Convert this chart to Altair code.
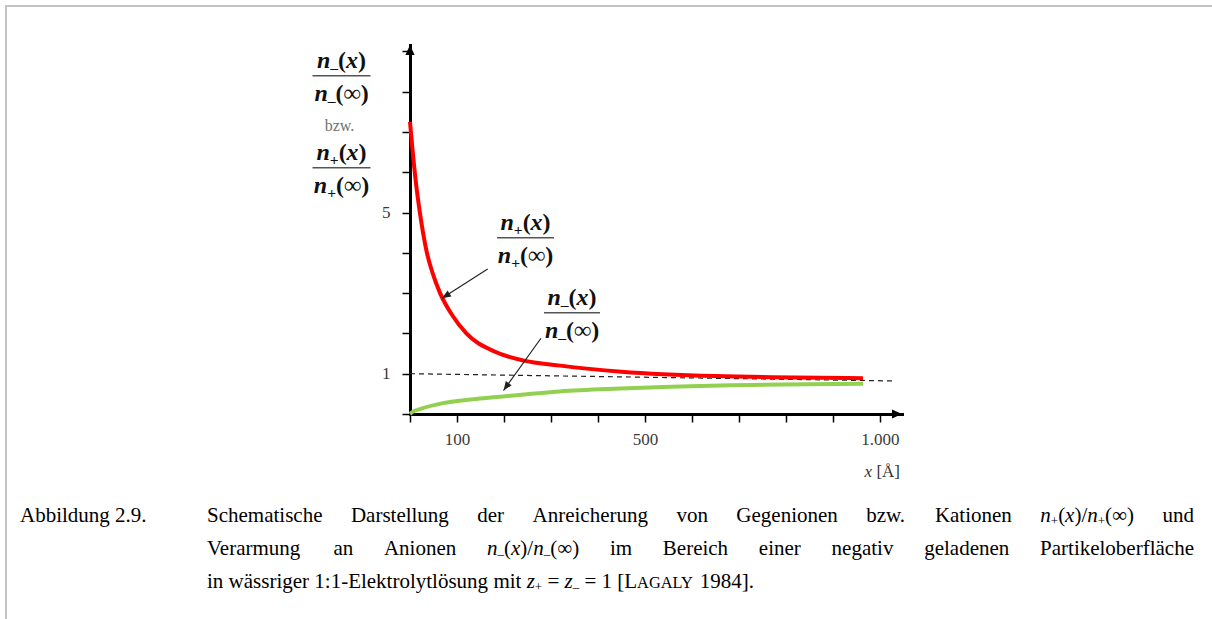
import altair as alt
import pandas as pd
import math

# ---------------- data ----------------
# cation enrichment n+(x)/n+(inf)
red_x = [0, 5, 12, 21, 36, 48, 64, 90, 120, 180, 240, 320, 450, 650, 964]
red_y = [7.25, 6.6, 5.8, 5.0, 4.0, 3.5, 3.0, 2.45, 2.0, 1.55, 1.33, 1.2, 1.05, 0.94, 0.89]
# anion depletion n-(x)/n-(inf)
green_x = [0, 5, 21, 70, 130, 191, 319, 447, 660, 964]
green_y = [0.0, 0.05, 0.12, 0.27, 0.36, 0.43, 0.56, 0.63, 0.71, 0.75]
# dashed reference level
ref_x = [0, 1030]
ref_y = [1.0, 0.82]

x_ticks = [0, 100, 200, 300, 400, 500, 600, 700, 800, 900, 1000]
x_tick_labels = {100: "100", 500: "500", 1000: "1.000"}
y_ticks = [0, 1, 2, 3, 4, 5, 6, 7, 8, 9]
y_tick_labels = {1: "1", 5: "5"}

caption_label = "Abbildung 2.9."
caption_line1 = ["Schematische", "Darstellung", "der", "Anreicherung", "von",
                 "Gegenionen", "bzw.", "Kationen", "@plus", "und"]
caption_line2 = ["Verarmung", "an", "Anionen", "@minus", "im", "Bereich", "einer",
                 "negativ", "geladenen", "Partikeloberfläche"]
caption_line3 = ["in", "wässriger", "1:1-Elektrolytlösung", "mit", "@zplus", "=",
                 "@zminus", "=", "1", "@lagaly", "1984]."]

# ---------------- geometry ----------------
X0, Y0 = 410.0, 414.0          # pixel position of the origin
W, H = 492, 369                # plot area
X_MAX = 1047.0
KX = W / X_MAX
KY = 40.3
Y_MAX = H / KY


def dx(px):
    return (px - X0) / KX


def dy(py):
    return (Y0 - py) / KY


# ---------------- font metrics (Times / Liberation Serif, 1/1000 em) ----------------
_reg = {}
for chars, w in [("acez", 444), ("bdghknopquvxy0123456789", 500), ("fr", 333),
                 ("ijlt", 278), ("m", 778), ("s", 389), ("w", 722),
                 ("ACDGHKNOQUVXYÅ", 722), ("BR", 667), ("ELTZ", 611),
                 ("FPS", 556), ("I", 333), ("J", 389), ("M", 889), ("W", 944),
                 ("()[]-", 333), (" .,", 250), (":;/", 278), ("=+", 564),
                 ("–", 500), ("∞", 713), ("ä", 444), ("öü", 500)]:
    for c in chars:
        _reg[c] = w
_it = dict(_reg, n=500, x=444, z=389)
_bold = dict(_reg, n=556, x=500, **{"(": 333, ")": 333, "+": 570, "–": 500, "∞": 713})

# kind -> (metrics, scale, baseline shift in em, fontStyle, fontWeight)
KINDS = {
    "r": (_reg, 1.0, 0.0, "normal", "normal"),
    "i": (_it, 1.0, 0.0, "italic", "normal"),
    "sub": (_reg, 0.62, 0.16, "normal", "normal"),
    "sc": (_reg, 0.78, 0.0, "normal", "normal"),
    "b": (_bold, 1.0, 0.0, "normal", "bold"),
    "bi": (_bold, 1.0, 0.0, "italic", "bold"),
    "bsub": (_bold, 0.65, 0.2, "normal", "bold"),
}


def run_w(text, kind, fs):
    table, scale, _, _, _ = KINDS[kind]
    return sum(table.get(c, 500) for c in text) * fs * scale / 1000.0


def word_runs(word):
    specials = {
        "@plus": [("n", "i"), ("+", "sub"), ("(", "r"), ("x", "i"), (")/", "r"),
                  ("n", "i"), ("+", "sub"), ("(∞)", "r")],
        "@minus": [("n", "i"), ("–", "sub"), ("(", "r"), ("x", "i"), (")/", "r"),
                   ("n", "i"), ("–", "sub"), ("(∞)", "r")],
        "@zplus": [("z", "i"), ("+", "sub")],
        "@zminus": [("z", "i"), ("–", "sub")],
        "@lagaly": [("[L", "r"), ("AGALY", "sc")],
    }
    return specials.get(word, [(word, "r")])


pieces = []


def place(runs, x, base, fs, color):
    for text, kind in runs:
        _, scale, shift, style, weight = KINDS[kind]
        body = text.lstrip(" ")
        # leading blanks collapse in SVG text, so advance past them instead
        x += run_w(text[:len(text) - len(body)], kind, fs)
        pieces.append(dict(px=x, py=base + shift * fs, text=body, fs=fs * scale,
                           style=style, weight=weight, col=color))
        x += run_w(body, kind, fs)
    return x


def runs_width(runs, fs):
    return sum(run_w(t, k, fs) for t, k in runs)


def place_line(words, left, right, base, fs, justify):
    rws = [word_runs(w) for w in words]
    widths = [runs_width(r, fs) for r in rws]
    gap = (right - left - sum(widths)) / (len(words) - 1) if justify else 0.25 * fs
    x = left
    for r, w in zip(rws, widths):
        place(r, x, base, fs, "#000000")
        x += w + gap


def place_centered(runs, cx, base, fs, color):
    place(runs, cx - runs_width(runs, fs) / 2.0, base, fs, color)


# ---------------- caption ----------------
CAP_FS = 21
CAP_L, CAP_R = 207, 1194
place([(caption_label, "r")], 20, 522, CAP_FS, "#000000")
place_line(caption_line1, CAP_L, CAP_R, 522, CAP_FS, True)
place_line(caption_line2, CAP_L, CAP_R, 555, CAP_FS, True)
place_line(caption_line3, CAP_L, CAP_R, 588, CAP_FS, False)

# ---------------- fraction labels ----------------
FR_FS = 24
num_plus = [("n", "bi"), ("+", "bsub"), ("(", "b"), ("x", "bi"), (")", "b")]
den_plus = [("n", "bi"), ("+", "bsub"), ("(∞)", "b")]
num_minus = [("n", "bi"), ("–", "bsub"), ("(", "b"), ("x", "bi"), (")", "b")]
den_minus = [("n", "bi"), ("–", "bsub"), ("(∞)", "b")]

# (center x, bar y, numerator, denominator, bar half width)
fractions = [
    (341.5, 75.7, num_minus, den_minus, 29),
    (341.5, 167.7, num_plus, den_plus, 29),
    (525.5, 237.7, num_plus, den_plus, 28.5),
    (572.0, 312.7, num_minus, den_minus, 28),
]
bars = []
for cx, by, num, den, hw in fractions:
    place_centered(num, cx, by - 7.5, FR_FS, "#111111")
    place_centered(den, cx, by + 25, FR_FS, "#111111")
    bars.append(dict(x=dx(cx - hw), x2=dx(cx + hw), y=dy(by)))
place_centered([("bzw.", "r")], 340, 131, 16, "#707070")

# x axis title
XT_FS = 17
xt_runs = [("x", "i"), (" [Å]", "r")]
place(xt_runs, 900 - runs_width(xt_runs, XT_FS), 477, XT_FS, "#333333")

text_df = pd.DataFrame(pieces)
text_df["x"] = text_df["px"].map(dx)
text_df["y"] = text_df["py"].map(dy)

# ---------------- encodings ----------------
def label_expr(d):
    expr = "''"
    for k, v in sorted(d.items(), reverse=True):
        expr = f"datum.value == {k} ? '{v}' : ({expr})"
    return expr


X = alt.X("x:Q", scale=alt.Scale(domain=[0, X_MAX], nice=False, zero=False),
          axis=alt.Axis(values=x_ticks, labelExpr=label_expr(x_tick_labels), title=None,
                        grid=False, domainColor="black", domainWidth=3, domainCap="square",
                        tickColor="black", tickWidth=1.5, tickSize=8,
                        labelFont="Liberation Serif", labelFontSize=17, labelColor="#3a3a3a",
                        labelPadding=9, labelFlush=False, labelOverlap=False))
Y = alt.Y("y:Q", scale=alt.Scale(domain=[0, Y_MAX], nice=False, zero=False),
          axis=alt.Axis(values=y_ticks, labelExpr=label_expr(y_tick_labels), title=None,
                        grid=False, domainColor="black", domainWidth=3, domainCap="square",
                        tickColor="black", tickWidth=1.5, tickSize=8,
                        labelFont="Liberation Serif", labelFontSize=17, labelColor="#3a3a3a",
                        labelPadding=12, labelFlush=False, labelOverlap=False))

layers = []

# page frame
frame = pd.DataFrame([
    dict(x=dx(5), x2=dx(1212), y=dy(6), y2=dy(6)),
    dict(x=dx(6), x2=dx(6), y=dy(5), y2=dy(619)),
])
layers.append(alt.Chart(frame).mark_rule(color="#c4c4c4", strokeWidth=2).encode(
    x=X, x2="x2:Q", y=Y, y2="y2:Q"))

# dashed level line
layers.append(alt.Chart(pd.DataFrame({"x": ref_x, "y": ref_y})).mark_line(
    color="#222222", strokeWidth=1.2, strokeDash=[5, 4]).encode(x=X, y=Y))

# curves
layers.append(alt.Chart(pd.DataFrame({"x": green_x, "y": green_y})).mark_line(
    color="#92d050", strokeWidth=4, interpolate="monotone").encode(x=X, y=Y))
layers.append(alt.Chart(pd.DataFrame({"x": red_x, "y": red_y})).mark_line(
    color="#ff0000", strokeWidth=4, interpolate="monotone").encode(x=X, y=Y))

# pointer arrows (start -> tip)
arrows = [((165.3, 3.6), (68.0, 2.87)), ((278.7, 1.88), (199.0, 0.583))]
shaft_rows, head_rows = [], []
for i, ((x1, y1), (x2, y2)) in enumerate(arrows):
    shaft_rows += [dict(x=x1, y=y1, id=i), dict(x=x2, y=y2, id=i)]
    sx, sy = (x2 - x1) * KX, -(y2 - y1) * KY
    ang = math.degrees(math.atan2(sx, -sy)) % 360
    head_rows.append(dict(x=x2, y=y2, ang=ang))
layers.append(alt.Chart(pd.DataFrame(shaft_rows)).mark_line(
    color="#222222", strokeWidth=1.2).encode(x=X, y=Y, detail="id:N"))
# custom symbol paths are scaled by sqrt(size)/2
layers.append(alt.Chart(pd.DataFrame(head_rows)).mark_point(
    shape="M0,0 L0.4,1 L-0.4,1 Z", filled=True, color="#222222", opacity=1, size=324).encode(
    x=X, y=Y, angle=alt.Angle("ang:Q", scale=None)))

# axis arrowheads
axis_heads = pd.DataFrame([dict(x=X_MAX, y=0.0, ang=90.0), dict(x=0.0, y=Y_MAX, ang=0.0)])
layers.append(alt.Chart(axis_heads).mark_point(
    shape="M0,0 L0.46,1 L-0.46,1 Z", filled=True, color="black", opacity=1, size=400).encode(
    x=X, y=Y, angle=alt.Angle("ang:Q", scale=None)))

# fraction bars
layers.append(alt.Chart(pd.DataFrame(bars)).mark_rule(color="#555555", strokeWidth=1.6).encode(
    x=X, x2="x2:Q", y=Y))

# text, one layer per font style
for (style, weight), grp in text_df.groupby(["style", "weight"]):
    layers.append(alt.Chart(grp[["x", "y", "text", "fs", "col"]]).mark_text(
        font="Liberation Serif", fontStyle=style, fontWeight=weight,
        align="left", baseline="alphabetic").encode(
        x=X, y=Y, text="text:N",
        size=alt.Size("fs:Q", scale=None),
        color=alt.Color("col:N", scale=None)))

chart = alt.layer(*layers).properties(
    width=W, height=H,
    padding={"left": 410, "top": 45, "right": 1212 - 410 - W, "bottom": 619 - 45 - H},
    autosize=alt.AutoSizeParams(type="none"),
).configure(background="white").configure_view(strokeWidth=0)

chart.save("out.html", embed_options={"renderer": "svg", "actions": False})
